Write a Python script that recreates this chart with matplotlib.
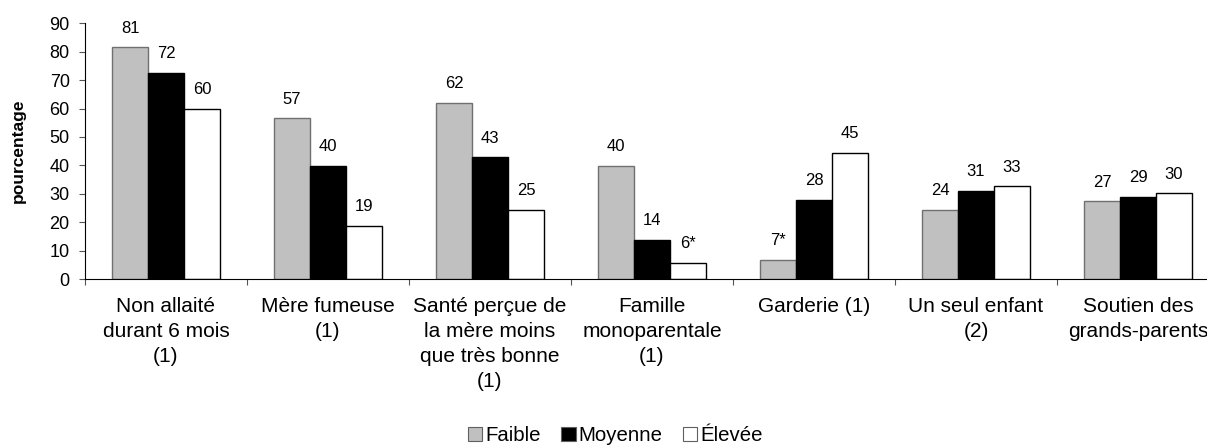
import matplotlib.pyplot as plt
from matplotlib.patches import Patch
import numpy as np

plt.rcParams['font.family'] = ['Liberation Sans', 'DejaVu Sans']

categories = ["Non allaité\ndurant 6 mois\n(1)",
              "Mère fumeuse\n(1)",
              "Santé perçue de\nla mère moins\nque très bonne\n(1)",
              "Famille\nmonoparentale\n(1)",
              "Garderie (1)",
              "Un seul enfant\n(2)",
              "Soutien des\ngrands-parents"]

series = ["Faible", "Moyenne", "Élevée"]

faible = [81.5, 56.5, 61.9, 39.8, 6.8, 24.3, 27.3]
moyenne = [72.4, 39.7, 42.8, 13.9, 27.7, 31.1, 28.8]
elevee = [60.0, 18.8, 24.4, 5.6, 44.5, 32.6, 30.1]

faible_lbl = ["81", "57", "62", "40", "7*", "24", "27"]
moyenne_lbl = ["72", "40", "43", "14", "28", "31", "29"]
elevee_lbl = ["60", "19", "25", "6*", "45", "33", "30"]

fig = plt.figure(figsize=(12.07, 4.45), dpi=100)
ax = fig.add_axes([85/1207, 166/445, 1134/1207, 255.7/445])

x = np.arange(len(categories))
w = 0.222
styles = [("#c0c0c0", "#707070"), ("black", "black"), ("white", "black")]
data = [faible, moyenne, elevee]
labels = [faible_lbl, moyenne_lbl, elevee_lbl]

for i, (vals, lbls, (fc, ec)) in enumerate(zip(data, labels, styles)):
    pos = x + (i - 1) * w
    ax.bar(pos, vals, w, color=fc, edgecolor=ec, linewidth=1)
    for p, v, l in zip(pos, vals, lbls):
        ax.annotate(l, (p, v), xytext=(0, 8.5), textcoords="offset points",
                    ha="center", va="bottom", fontsize=12)

ax.set_xlim(-0.5, 6.5)
ax.set_ylim(0, 90)
ax.set_yticks(range(0, 91, 10))
ax.tick_params(axis="y", labelsize=13, length=4, pad=7, color="#555555")

ax.set_xticks(np.arange(-0.5, 6.6, 1))
ax.set_xticklabels([])
ax.tick_params(axis="x", which="major", length=4, color="#555555")
ax.set_xticks(x, minor=True)
ax.set_xticklabels(categories, minor=True, fontsize=15, linespacing=1.4)
ax.tick_params(axis="x", which="minor", length=0, pad=13)

for s in ["top", "right"]:
    ax.spines[s].set_visible(False)

ax.set_ylabel("pourcentage", fontsize=12.5, fontweight="bold")
ax.yaxis.set_label_coords(-0.052, 0.5)

handles = [Patch(facecolor=fc, edgecolor="#606060", linewidth=0.8) for fc, ec in styles]
fig.legend(handles, series, loc="lower center", bbox_to_anchor=(0.51, 0.0),
           ncol=3, frameon=False, fontsize=14.7, handlelength=0.7, handleheight=0.7,
           handletextpad=0.15, columnspacing=1.0, borderpad=0, borderaxespad=0)

fig.savefig("out.png", dpi=100)
